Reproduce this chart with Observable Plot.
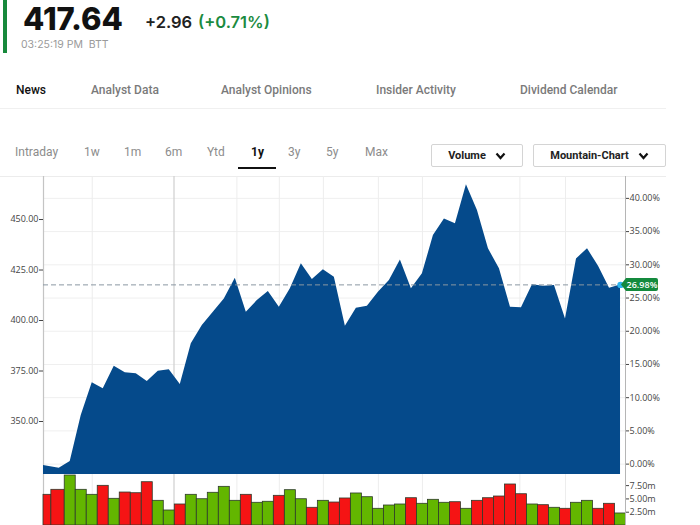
<!DOCTYPE html>
<html>
<head>
<meta charset="utf-8">
<script src="https://cdn.jsdelivr.net/npm/d3@7"></script>
<script src="https://cdn.jsdelivr.net/npm/@observablehq/plot@0.6"></script>
<style>
  html, body { margin: 0; padding: 0; background: #fff; }
  body { width: 700px; height: 525px; position: relative; overflow: hidden; font-family: "Open Sans", sans-serif; }
  .abs { position: absolute; white-space: nowrap; }
  .greenbar { left: 3px; top: 0; width: 4px; height: 53px; background: #17893c; }
  .price { left: 23px; top: 6px; line-height: 26px; font-family: Inter, sans-serif; font-weight: 800; font-size: 31px; letter-spacing: 0px; color: #111; }
  .chg { left: 145px; top: 12px; font-family: Inter, sans-serif; font-weight: 600; font-size: 16.5px; color: #222; }
  .pct { left: 198px; top: 12px; font-family: Inter, sans-serif; font-weight: 600; font-size: 16.5px; color: #1b8b3f; }
  .time { left: 21px; top: 38px; font-family: Inter, sans-serif; font-size: 10.5px; color: #9a9a9a; }
  .tab { top: 83px; font-family: Roboto, sans-serif; font-size: 12px; font-weight: 500; color: #7a7a7a; }
  .tabline { left: 0; top: 108px; width: 666px; height: 1px; background: #f0f0f0; }
  .per { top: 145px; font-family: Roboto, sans-serif; font-size: 12px; color: #8c8c8c; }
  .per.active { color: #111; font-weight: 700; }
  .uline { left: 238px; top: 167px; width: 38px; height: 2px; background: #111; }
  .btn { top: 144px; height: 23px; border: 1px solid #d4d4d4; border-radius: 2px; box-sizing: border-box;
         font-family: Roboto, sans-serif; font-size: 11px; font-weight: 700; color: #222; display: flex; align-items: center; justify-content: center; gap: 9px; }
  .topline { left: 0; top: 176px; width: 666px; height: 1px; background: #ececec; }
  #price { position: absolute; left: 0; top: 176px; }
  #vol { position: absolute; left: 0; top: 474px; }
</style>
</head>
<body>
<div class="abs greenbar"></div>
<div class="abs price">417.64</div>
<div class="abs chg">+2.96</div>
<div class="abs pct">(+0.71%)</div>
<div class="abs time">03:25:19 PM&nbsp;&nbsp;BTT</div>

<div class="abs tab" style="left:16px;color:#111;">News</div>
<div class="abs tab" style="left:91px;">Analyst Data</div>
<div class="abs tab" style="left:221px;">Analyst Opinions</div>
<div class="abs tab" style="left:376px;">Insider Activity</div>
<div class="abs tab" style="left:520px;">Dividend Calendar</div>
<div class="abs tabline"></div>

<div class="abs per" style="left:15px;">Intraday</div>
<div class="abs per" style="left:84px;">1w</div>
<div class="abs per" style="left:124px;">1m</div>
<div class="abs per" style="left:165px;">6m</div>
<div class="abs per" style="left:207px;">Ytd</div>
<div class="abs per active" style="left:251px;">1y</div>
<div class="abs per" style="left:288px;">3y</div>
<div class="abs per" style="left:326px;">5y</div>
<div class="abs per" style="left:365px;">Max</div>
<div class="abs uline"></div>

<div class="abs btn" style="left:431px;width:92px;">Volume <svg width="11" height="8"><polyline points="1.5,1.5 5.5,6 9.5,1.5" fill="none" stroke="#111" stroke-width="2.2"/></svg></div>
<div class="abs btn" style="left:533px;width:133px;">Mountain-Chart <svg width="11" height="8"><polyline points="1.5,1.5 5.5,6 9.5,1.5" fill="none" stroke="#111" stroke-width="2.2"/></svg></div>
<div class="abs topline"></div>

<div id="price"></div>
<div id="vol"></div>

<script>
// ---- data ----
const dates = ["2023-10-10","2023-10-20","2023-10-27","2023-11-03","2023-11-10","2023-11-17","2023-11-24",
  "2023-12-01","2023-12-08","2023-12-15","2023-12-22","2023-12-29","2024-01-05","2024-01-12","2024-01-19",
  "2024-01-26","2024-02-02","2024-02-09","2024-02-16","2024-02-23","2024-03-01","2024-03-08","2024-03-15",
  "2024-03-22","2024-03-29","2024-04-05","2024-04-12","2024-04-19","2024-04-26","2024-05-03","2024-05-10",
  "2024-05-17","2024-05-24","2024-05-31","2024-06-07","2024-06-14","2024-06-21","2024-06-28","2024-07-05",
  "2024-07-12","2024-07-19","2024-07-26","2024-08-02","2024-08-09","2024-08-16","2024-08-23","2024-08-30",
  "2024-09-06","2024-09-13","2024-09-20","2024-09-27","2024-10-04","2024-10-11"];
const closes = [328.2, 326.9, 330.2, 353.0, 369.2, 366.2, 377.4, 374.1, 373.6, 369.8, 374.9, 375.6, 368.3,
  388.5, 397.5, 404.1, 410.7, 420.9, 404.1, 409.9, 414.4, 406.6, 415.7, 428.1, 420.3, 425.1, 421.4, 397.2,
  406.1, 407.1, 414.0, 419.8, 430.0, 415.7, 423.1, 442.1, 450.3, 447.9, 467.2, 454.5, 435.5, 425.6, 406.6,
  406.3, 417.7, 417.0, 417.3, 400.8, 430.5, 435.5, 426.9, 416.0, 417.64];
const volumes = [5.77, 6.71, 9.4, 6.71, 5.77, 7.46, 5.02, 6.2, 6.07, 8.14, 4.64, 2.82, 3.95, 5.77, 4.94, 6.15,
  7.27, 4.64, 5.77, 4.27, 4.46, 5.58, 6.64, 4.94, 3.33, 4.64, 4.32, 5.08, 6.02, 5.32, 3.14, 3.76, 3.95, 5.13,
  4.08, 4.83, 4.27, 4.38, 3.14, 4.64, 5.13, 5.45, 7.71, 5.88, 3.95, 3.82, 3.33, 3.14, 4.27, 4.64, 3.14, 4.08, 2.26];
const direction = ["d","d","u","u","u","d","u","d","d","d","u","u","d","u","u","u","u","u","d","u","u","d",
  "u","u","d","u","d","d","u","u","u","u","u","d","u","u","u","d","u","d","d","d","d","d","u","d","u","d",
  "u","u","d","d","u"];
const priceTicks = [350, 375, 400, 425, 450];
const pctTicks = [0, 5, 10, 15, 20, 25, 30, 35, 40];
const volTicks = [2.5, 5, 7.5];
const gridDates = ["2023-11-10","2024-02-10","2024-03-08","2024-04-05","2024-05-10","2024-06-07","2024-08-08","2024-09-06"];
const yearDate = "2024-01-01";
const lastPrice = 417.64;
const lastPct = 26.98;

// ---- derived ----
const parse = d3.utcParse("%Y-%m-%d");
const data = dates.map((d, i) => ({date: parse(d), close: closes[i], vol: volumes[i], dir: direction[i]}));
const base = lastPrice / (1 + lastPct / 100);
const pctPrices = pctTicks.map(p => base * (1 + p / 100));
const xDomain = [parse(dates[0]), new Date(Date.UTC(2024, 9, 14, 4))];
const yDomain = [323.76, 471.3];
const gridX = gridDates.map(parse);
const yearX = parse(yearDate);
// bar spans: midpoints between consecutive dates
data.forEach((d, i) => {
  d.x1 = i === 0 ? d.date : new Date((+data[i - 1].date + +d.date) / 2);
  d.x2 = i === data.length - 1 ? new Date(+d.date + (+d.date - +data[i - 1].date) / 2)
                               : new Date((+d.date + +data[i + 1].date) / 2);
});
const last = data[data.length - 1];

const font = {fontFamily: "'Open Sans', sans-serif", fontSize: "9px", background: "transparent", overflow: "visible", color: "#444"};

function badge(index, scales, values, dims) {
  const y = scales.y(last.close);
  const x = dims.width - dims.marginRight - 4;
  const g = d3.create("svg:g");
  g.append("path")
    .attr("d", `M${x},${y} L${x + 5},${y - 6.5} H${x + 35} Q${x + 37},${y - 6.5} ${x + 37},${y - 4.5} V${y + 4.5} Q${x + 37},${y + 6.5} ${x + 35},${y + 6.5} H${x + 5} Z`)
    .attr("fill", "#148a3d");
  g.append("text").attr("x", x + 21).attr("y", y).attr("dy", "0.35em")
    .attr("text-anchor", "middle").attr("fill", "#fff")
    .attr("font-size", 9).attr("font-weight", 600).attr("font-family", "'Open Sans', sans-serif")
    .text(lastPct.toFixed(2) + "%");
  return g.node();
}

const pricePlot = Plot.plot({
  width: 700, height: 298,
  marginLeft: 43, marginRight: 75, marginTop: 0, marginBottom: 0,
  style: font,
  x: {type: "utc", domain: xDomain, axis: null},
  y: {domain: yDomain, axis: null},
  marks: [
    Plot.ruleY(pctPrices, {stroke: "#efefef", strokeWidth: 1}),
    Plot.ruleX(gridX, {stroke: "#ededed", strokeWidth: 1}),
    Plot.ruleX([yearX], {stroke: "#cfcfcf", strokeWidth: 1.2}),
    Plot.ruleX([xDomain[0]], {stroke: "#c4c4c4", strokeWidth: 1.2}),
    Plot.areaY(data, {x: "date", y1: yDomain[0], y2: "close", fill: "#054a8b", curve: "linear"}),
    Plot.ruleY([lastPrice], {x1: xDomain[0], x2: last.date, stroke: "#8a97a3", strokeDasharray: "5,3", strokeWidth: 1}),
    Plot.ruleX([xDomain[1]], {stroke: "#b5b5b5", strokeWidth: 1}),
    Plot.axisY(priceTicks, {anchor: "left", label: null, tickFormat: d => d.toFixed(2), tickSize: 4, tickPadding: 1, color: "#444"}),
    Plot.axisY(pctPrices, {anchor: "right", label: null, tickFormat: d => ((d / base - 1) * 100).toFixed(2) + "%", tickSize: 3, tickPadding: 1, color: "#444"}),
    Plot.dot([last], {x: "date", y: "close", r: 3.2, fill: "#2cb5ef"}),
    badge
  ]
});
document.getElementById("price").appendChild(pricePlot);

const volPlot = Plot.plot({
  width: 700, height: 51,
  marginLeft: 43, marginRight: 75, marginTop: 0, marginBottom: 0,
  style: font,
  x: {type: "utc", domain: xDomain, axis: null},
  y: {domain: [0, 9.59], axis: null},
  color: {domain: ["u", "d"], range: ["#63b600", "#f51414"]},
  marks: [
    Plot.ruleX(gridX, {stroke: "#ededed", strokeWidth: 1}),
    Plot.ruleX([yearX], {stroke: "#cfcfcf", strokeWidth: 1.2}),
    Plot.ruleX([xDomain[0]], {stroke: "#c4c4c4", strokeWidth: 1.2}),
    Plot.rectY(data, {x1: "x1", x2: "x2", y: "vol", fill: "dir", stroke: "#2d3a2a", strokeWidth: 0.8}),
    Plot.ruleX([xDomain[1]], {stroke: "#b5b5b5", strokeWidth: 1}),
    Plot.axisY(volTicks, {anchor: "right", label: null, tickFormat: d => d.toFixed(2) + "m", tickSize: 3, tickPadding: 1, color: "#444"})
  ]
});
document.getElementById("vol").appendChild(volPlot);
</script>
</body>
</html>
